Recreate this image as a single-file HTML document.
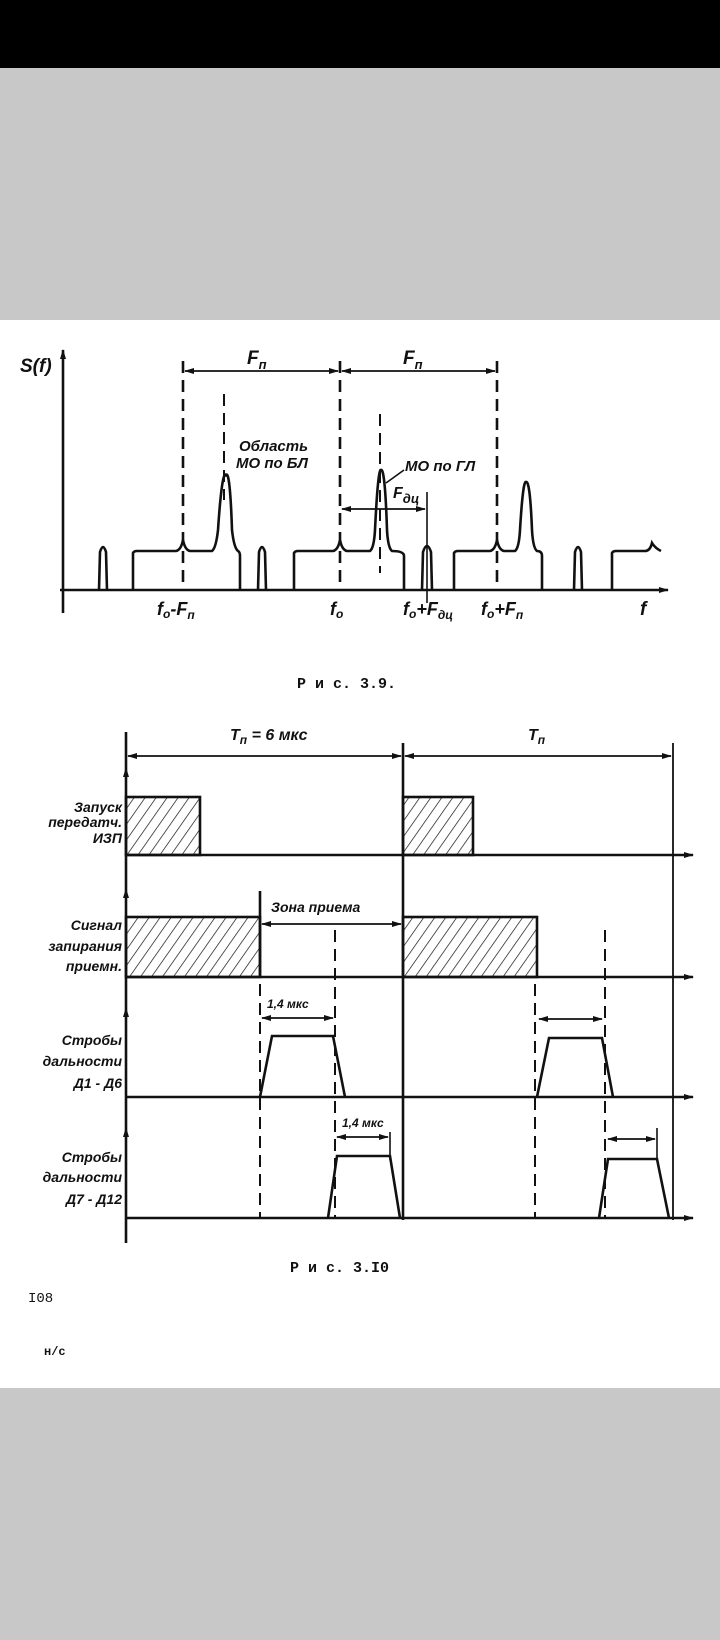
<!DOCTYPE html>
<html><head><meta charset="utf-8"><style>
html,body{margin:0;padding:0;background:#fff}
svg{display:block}
text{font-family:"Liberation Sans","DejaVu Sans",sans-serif;font-style:italic;font-weight:bold;fill:#111}
.m{font-family:"Liberation Mono",monospace;font-style:normal;font-weight:bold}
</style></head><body>
<svg width="720" height="1640" viewBox="0 0 720 1640" xmlns="http://www.w3.org/2000/svg">
<defs>
<pattern id="h" width="9" height="9" patternUnits="userSpaceOnUse" patternTransform="rotate(35)">
<line x1="0" y1="0" x2="0" y2="9" stroke="#111" stroke-width="1.4"/></pattern>
<marker id="a" markerWidth="10" markerHeight="8" refX="9" refY="4" orient="auto-start-reverse" markerUnits="userSpaceOnUse">
<path d="M0,1 L10,4 L0,7 Z" fill="#111"/></marker>
</defs>
<rect x="0" y="0" width="720" height="68" fill="#000"/>
<rect x="0" y="68" width="720" height="252" fill="#c8c8c8"/>
<rect x="0" y="1388" width="720" height="252" fill="#c8c8c8"/>

<g stroke="#111" fill="none" stroke-width="2.6">
<line x1="63" y1="613" x2="63" y2="350" marker-end="url(#a)"/>
<line x1="60" y1="590" x2="668" y2="590" marker-end="url(#a)"/>
<g stroke-dasharray="12,7">
<line x1="183" y1="361" x2="183" y2="590"/>
<line x1="340" y1="361" x2="340" y2="590"/>
<line x1="497" y1="361" x2="497" y2="590"/>
<line x1="224" y1="394" x2="224" y2="500" stroke-width="2"/>
<line x1="380" y1="414" x2="380" y2="573" stroke-width="2"/>
</g>
<line x1="427" y1="492" x2="427" y2="603" stroke-width="1.6"/>
<line x1="185" y1="371" x2="338" y2="371" stroke-width="1.8" marker-start="url(#a)" marker-end="url(#a)"/>
<line x1="342" y1="371" x2="495" y2="371" stroke-width="1.8" marker-start="url(#a)" marker-end="url(#a)"/>
<line x1="342" y1="509" x2="425" y2="509" stroke-width="1.8" marker-start="url(#a)" marker-end="url(#a)"/>
<line x1="386" y1="483" x2="404" y2="470" stroke-width="1.6"/>
<path d="M99,590 L100,552 Q103,542 106,552 L107,590"/>
<path d="M258,590 L259,552 Q262,542 265,552 L266,590"/>
<path d="M574,590 L575,552 Q578,542 581,552 L582,590"/>
<path d="M133,590 L133,553 Q134,551 137,551 L176,551 Q181,550 183,540 Q185,550 190,551 L212,551 Q216,548 218,530 Q222,470 226,475 Q230,470 232,530 Q234,548 238,551 Q240,552 240,556 L240,590"/>
<path d="M294,590 L294,553 Q295,551 298,551 L333,551 Q338,550 340,540 Q342,550 347,551 L370,551 Q374,548 375,530 Q378,468 381,470 Q385,468 387,530 Q388,548 392,551 Q404,551 404,556 L404,590"/>
<path d="M422,590 L423,552 Q427,540 431,552 L432,590"/>
<path d="M454,590 L454,553 Q455,551 458,551 L490,551 Q495,550 497,540 Q499,550 504,551 L515,551 Q519,548 520,530 Q523,480 526,482 Q530,480 532,530 Q533,548 537,551 Q542,551 542,556 L542,590"/>
<path d="M612,590 L612,553 Q613,551 616,551 L645,551 Q650,551 652,543 Q655,548 661,551"/>

<line x1="126" y1="1243" x2="126" y2="732"/>
<line x1="403" y1="743" x2="403" y2="1220"/>
<line x1="673" y1="743" x2="673" y2="1220" stroke-width="1.8"/>
<line x1="128" y1="756" x2="401" y2="756" stroke-width="1.8" marker-start="url(#a)" marker-end="url(#a)"/>
<line x1="405" y1="756" x2="671" y2="756" stroke-width="1.8" marker-start="url(#a)" marker-end="url(#a)"/>
<g stroke-width="1.8">
<line x1="126" y1="800" x2="126" y2="768" marker-end="url(#a)"/>
<line x1="126" y1="920" x2="126" y2="889" marker-end="url(#a)"/>
<line x1="126" y1="1040" x2="126" y2="1008" marker-end="url(#a)"/>
<line x1="126" y1="1160" x2="126" y2="1128" marker-end="url(#a)"/>
</g>
<line x1="126" y1="855" x2="693" y2="855" marker-end="url(#a)"/>
<line x1="126" y1="977" x2="693" y2="977" marker-end="url(#a)"/>
<line x1="126" y1="1097" x2="693" y2="1097" marker-end="url(#a)"/>
<line x1="126" y1="1218" x2="693" y2="1218" marker-end="url(#a)"/>
<rect x="126" y="797" width="74" height="58" fill="url(#h)"/>
<rect x="403" y="797" width="70" height="58" fill="url(#h)"/>
<rect x="126" y="917" width="134" height="60" fill="url(#h)"/>
<rect x="403" y="917" width="134" height="60" fill="url(#h)"/>
<line x1="260" y1="891" x2="260" y2="977"/>
<line x1="262" y1="924" x2="401" y2="924" stroke-width="1.8" marker-start="url(#a)" marker-end="url(#a)"/>
<g stroke-dasharray="12,7" stroke-width="2">
<line x1="335" y1="930" x2="335" y2="1218"/>
<line x1="605" y1="930" x2="605" y2="1218"/>
<line x1="260" y1="984" x2="260" y2="1218"/>
<line x1="535" y1="984" x2="535" y2="1218"/>
</g>
<path d="M260,1097 L272,1036 L333,1036 L345,1097"/>
<path d="M537,1097 L549,1038 L602,1038 L613,1097"/>
<path d="M328,1218 L337,1156 L390,1156 L400,1218"/>
<path d="M599,1218 L608,1159 L657,1159 L669,1218"/>
<line x1="262" y1="1018" x2="333" y2="1018" stroke-width="1.8" marker-start="url(#a)" marker-end="url(#a)"/>
<line x1="539" y1="1019" x2="602" y2="1019" stroke-width="1.8" marker-start="url(#a)" marker-end="url(#a)"/>
<line x1="390" y1="1132" x2="390" y2="1160" stroke-width="1.6"/>
<line x1="337" y1="1137" x2="388" y2="1137" stroke-width="1.8" marker-start="url(#a)" marker-end="url(#a)"/>
<line x1="657" y1="1128" x2="657" y2="1160" stroke-width="1.6"/>
<line x1="608" y1="1139" x2="655" y2="1139" stroke-width="1.8" marker-start="url(#a)" marker-end="url(#a)"/>
</g>

<text x="20" y="372" font-size="19">S(f)</text>
<text x="247" y="364" font-size="19">F<tspan font-size="13" dy="5">п</tspan></text>
<text x="403" y="364" font-size="19">F<tspan font-size="13" dy="5">п</tspan></text>
<text x="239" y="451" font-size="15">Область</text>
<text x="236" y="468" font-size="15">МО по БЛ</text>
<text x="405" y="471" font-size="15">МО по ГЛ</text>
<text x="393" y="498" font-size="16">F<tspan font-size="13" dy="5">дц</tspan></text>
<text x="157" y="615" font-size="18">f<tspan font-size="12" dy="3">o</tspan><tspan dy="-3">-F</tspan><tspan font-size="12" dy="4">п</tspan></text>
<text x="330" y="615" font-size="18">f<tspan font-size="12" dy="3">o</tspan></text>
<text x="403" y="615" font-size="18">f<tspan font-size="12" dy="3">o</tspan><tspan dy="-3">+F</tspan><tspan font-size="12" dy="4">дц</tspan></text>
<text x="481" y="615" font-size="18">f<tspan font-size="12" dy="3">o</tspan><tspan dy="-3">+F</tspan><tspan font-size="12" dy="4">п</tspan></text>
<text x="640" y="615" font-size="19">f</text>
<text x="297" y="688" font-size="15" class="m">Р и с. 3.9.</text>

<text x="230" y="740" font-size="16">T<tspan font-size="12" dy="4">п</tspan><tspan dy="-4"> = 6 мкс</tspan></text>
<text x="528" y="740" font-size="16">T<tspan font-size="12" dy="4">п</tspan></text>
<text x="271" y="912" font-size="14">Зона  приема</text>
<text x="267" y="1008" font-size="12">1,4 мкс</text>
<text x="342" y="1127" font-size="12">1,4 мкс</text>
<g font-size="14" text-anchor="end">
<text x="122" y="812">Запуск</text>
<text x="122" y="827">передатч.</text>
<text x="122" y="843">ИЗП</text>
<text x="122" y="930">Сигнал</text>
<text x="122" y="951">запирания</text>
<text x="122" y="971">приемн.</text>
<text x="122" y="1045">Стробы</text>
<text x="122" y="1066">дальности</text>
<text x="122" y="1088">Д1 - Д6</text>
<text x="122" y="1162">Стробы</text>
<text x="122" y="1182">дальности</text>
<text x="122" y="1204">Д7 - Д12</text>
</g>
<text x="290" y="1272" font-size="15" class="m">Р и с. 3.I0</text>
<text x="28" y="1302" font-size="14" style="font-family:'Liberation Mono',monospace;font-style:normal;font-weight:normal">I08</text>
<text x="44" y="1355" font-size="12" class="m">н/с</text>
</svg>
</body></html>
